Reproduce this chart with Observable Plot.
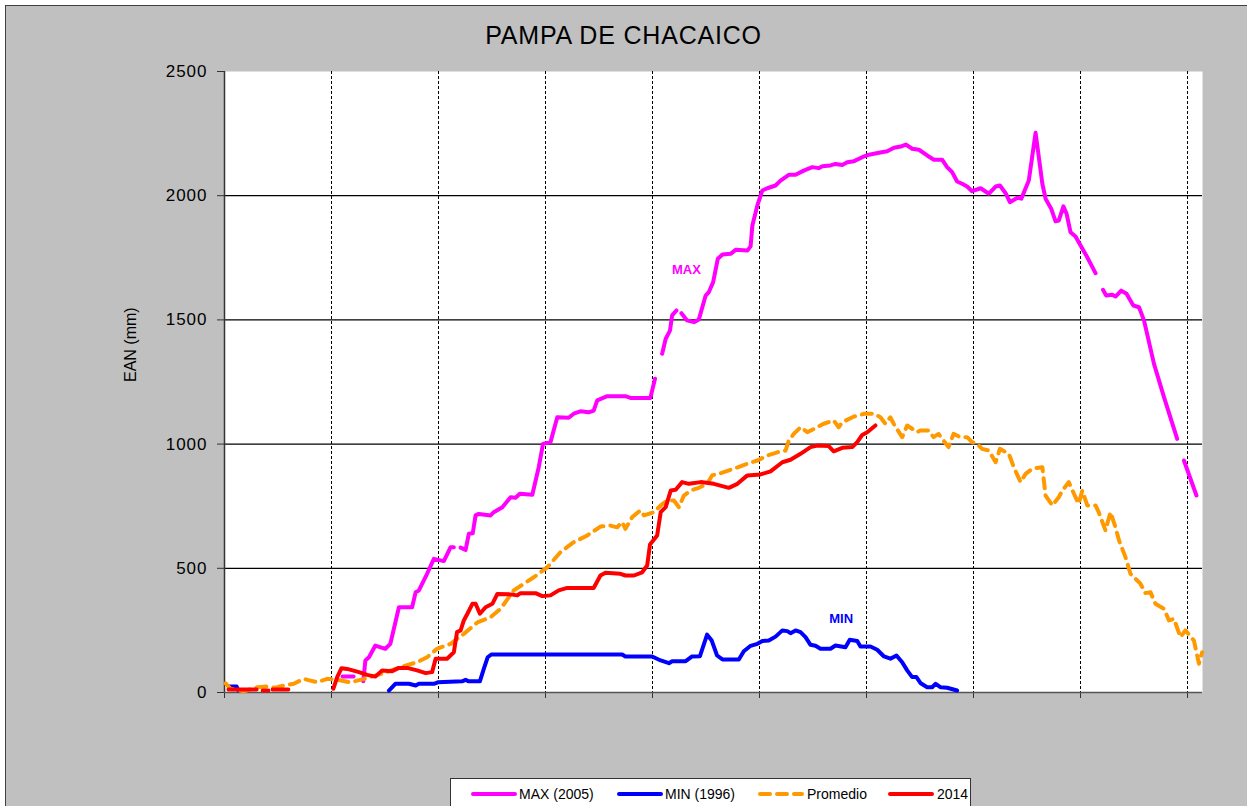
<!DOCTYPE html>
<html>
<head>
<meta charset="utf-8">
<script src="https://cdn.jsdelivr.net/npm/d3@7"></script>
<script src="https://cdn.jsdelivr.net/npm/@observablehq/plot@0.6"></script>
<style>
  html, body { margin: 0; padding: 0; background: #fff; }
  #page { position: relative; width: 1247px; height: 806px; overflow: hidden; font-family: "Liberation Sans", Arial, sans-serif; }
  #bg { position: absolute; left: 5px; top: 5px; width: 1250px; height: 810px; background: #c0c0c0; border: 1px solid #404040; }
  #chart { position: absolute; left: 0; top: 0; }
  #title { position: absolute; left: 0; width: 1247px; top: 21px; text-align: center; font-size: 25px; color: #000; letter-spacing: 0.8px; }
  #legend { position: absolute; left: 450px; top: 778px; width: 519px; height: 40px; background: #fff; border: 1px solid #333; }
  .lg { position: absolute; top: 7px; font-size: 14px; color: #000; white-space: nowrap; }
  .sw { position: absolute; top: 11px; }
</style>
</head>
<body>
<div id="page">
  <div id="bg"></div>
  <div id="chart"></div>
  <div id="title">PAMPA DE CHACAICO</div>
  <div id="legend"></div>
</div>
<script>
// ---- Data (x = days from season start, gridlines every 30 days; y = EAN in mm; null = gap) ----
const maxDays = [33.1,36.2,null,
  38.9,39.5,40.5,42.3,45.1,46.5,48.9,51.7,52.6,53.6,54.5,56.8,58.7,61.5,63.4,64.3,null,
  66.2,67.6,68.5,69.6,70.4,71.3,74.6,75.5,77.9,80.2,81.6,82.8,86.3,88.1,89.3,91.4,93.3,96.5,98.1,99.8,102.1,103.5,104.5,107.3,112.4,113.8,119.4,120.7,null,
  122.7,123.7,124.9,125.5,126.7,null,
  128.1,129.7,131.6,133.0,134.9,135.8,137.0,138.3,139.6,141.9,143.3,146.6,147.5,148.0,149.4,150.8,152.2,154.5,155.9,158.2,160.1,162.4,164.8,166.6,167.6,169.9,171.3,173.2,174.6,176.5,178.8,180.7,183.5,185.8,187.7,189.6,191.0,192.8,194.7,197.0,198.9,201.2,202.6,204.0,205.4,206.8,208.2,209.6,212.0,214.3,216.2,217.4,219.0,220.2,222.3,223.4,225.5,227.4,229.3,230.2,231.8,233.0,233.9,235.2,236.1,237.2,238.6,241.9,244.2,null,
  246.3,247.2,248.9,249.8,251.4,252.9,254.8,256.4,257.8,260.6,263.4,267.1,null,
  269.0,272.5];
const maxEAN = [64,64,null,
  45,129,142,189,176,196,343,343,343,404,411,478,538,529,585,585,null,
  583,574,639,641,713,719,713,726,746,786,784,800,796,907,1001,1008,1108,1106,1124,1132,1128,1135,1176,1193,1193,1186,1186,1263,null,
  1364,1424,1457,1518,1538,null,
  1527,1498,1491,1502,1598,1612,1652,1746,1763,1766,1782,1779,1796,1880,1961,2021,2030,2041,2061,2084,2084,2101,2115,2111,2119,2122,2128,2124,2135,2139,2155,2165,2173,2179,2193,2198,2206,2189,2185,2162,2145,2145,2115,2095,2057,2048,2037,2018,2030,2008,2037,2041,2010,1974,1992,1988,2061,2253,2048,1988,1947,1897,1900,1957,1927,1853,1836,1752,1688,null,
  1621,1598,1601,1594,1618,1605,1558,1551,1498,1323,1189,1021,null,
  934,793];

const minDays = [1.4,3.4,3.9,null,
  46.1,47.9,51.7,53.6,54.5,58.7,59.8,66.6,67.6,68.5,71.6,72.7,73.8,74.8,111.5,112.4,119.9,122.3,124.6,125.5,129.3,131.1,133.3,135.3,136.6,138.1,139.6,144.2,145.6,147.5,149.4,150.8,152.6,154.5,156.4,157.8,158.7,160.1,161.5,162.9,164.3,165.7,167.1,169.9,171.3,174.1,175.3,177.4,178.3,181.1,183.0,184.9,186.7,188.4,190.0,191.4,192.8,194.0,195.2,197.0,198.4,199.4,200.8,202.6,205.4];
const minEAN = [24,24,8,null,
  8,35,35,28,35,35,41,45,51,45,45,95,142,153,153,145,145,129,118,126,126,145,146,233,209,149,133,133,166,188,196,207,209,225,250,247,239,250,243,223,192,188,176,176,189,182,212,207,185,185,172,145,136,149,122,89,62,62,37,21,21,35,21,19,8];

const avgDays = [0.3,1.7,5.4,9.2,12.0,14.3,16.6,19.4,22.2,24.1,26.0,28.8,31.6,35.3,39.1,44.7,49.3,54.0,56.8,59.6,63.4,67.1,70.9,74.6,77.4,81.1,86.7,90.5,94.2,97.9,101.7,105.4,108.2,110.1,111.5,112.4,114.3,116.6,117.6,120.4,122.3,124.1,126.0,127.4,128.8,130.7,133.0,135.3,136.7,139.1,142.8,146.6,149.4,152.2,155.0,157.3,158.2,159.6,161.5,163.4,166.2,168.0,170.8,172.2,173.2,176.5,179.3,182.1,183.9,185.3,186.7,187.6,190.0,191.4,194.2,195.1,197.4,198.8,200.2,201.6,203.0,204.4,206.3,208.2,209.6,211.0,212.4,214.3,216.2,217.4,219.9,221.3,223.2,224.6,226.5,229.3,230.2,232.1,233.9,234.9,236.7,238.6,239.5,240.5,241.9,244.2,245.1,247.0,247.5,248.4,249.8,250.8,252.6,254.0,256.8,258.2,259.6,261.0,263.4,264.8,266.2,268.0,269.4,271.8,273.2,274.1];
const avgEAN = [37,15,5,21,24,19,28,35,55,48,41,55,51,41,55,78,102,122,142,176,196,236,282,303,337,411,464,504,565,605,632,668,672,665,686,659,706,733,713,726,753,773,773,746,793,813,824,840,874,883,901,921,934,954,967,974,1014,1041,1068,1048,1068,1082,1095,1068,1088,1111,1122,1122,1108,1082,1108,1082,1028,1075,1048,1055,1055,1028,1041,1014,988,1041,1028,1028,1008,1001,981,974,927,981,961,907,847,880,901,907,793,753,786,813,847,786,760,813,753,753,726,652,679,726,665,612,545,478,438,400,404,357,337,290,297,223,250,209,116,162];

const y2014Days = [1.1,9.0,null,10.7,12.3,null,13.5,17.9,null,
  30.5,31.6,32.8,34.4,37.7,40.0,42.3,44.2,47.0,48.9,51.2,54.0,56.4,58.2,59.2,62.4,64.3,65.2,66.2,67.1,68.1,69.5,70.4,71.6,73.2,75.1,76.5,80.2,82.1,83.0,87.2,89.1,91.4,93.7,96.1,103.5,105.4,106.8,111.0,112.4,114.8,117.1,118.5,119.3,121.3,122.3,123.7,125.1,126.5,128.3,130.2,133.5,137.2,141.4,143.8,146.6,150.3,153.1,156.4,158.7,161.5,164.3,166.2,169.4,170.8,173.2,176.0,177.4,178.8,180.2,182.5];
const y2014EAN = [12,12,null,8,8,null,12,12,null,
  15,62,98,95,82,71,64,89,86,99,99,89,78,82,136,136,162,243,250,290,317,357,357,317,343,357,397,395,391,400,400,388,391,411,421,421,471,482,478,471,471,484,511,596,632,726,746,813,816,847,840,847,840,824,840,874,878,890,927,937,961,988,994,992,971,985,988,1008,1037,1048,1075];

const yTicks = [0, 500, 1000, 1500, 2000, 2500];
const xGrid = [30, 60, 90, 120, 150, 180, 210, 240, 270];
const xTicks = [0, 30, 60, 90, 120, 150, 180, 210, 240, 270];

const seriesNames = ["MAX (2005)", "MIN (1996)", "Promedio", "2014"];
const seriesColors = ["#ff00ff", "#0000ff", "#ff9900", "#ff0000"];
const labelTexts = ["MAX", "MIN"];
const labelDays = [129.5, 172.9];
const labelEAN = [1703, 298];

// ---- Build tables ----
const toRows = (xs, ys) => xs.map((x, i) => ({x, y: ys[i]}));
const maxRows = toRows(maxDays, maxEAN);
const minRows = toRows(minDays, minEAN);
const avgRows = toRows(avgDays, avgEAN);
const y14Rows = toRows(y2014Days, y2014EAN);
const labelRows = labelTexts.map((t, i) => ({t, x: labelDays[i], y: labelEAN[i], c: seriesColors[i]}));

const lineOpts = (c, extra = {}) => ({x: "x", y: "y", stroke: c, strokeWidth: 4, strokeLinejoin: "round", strokeLinecap: "round", ...extra});

const chart = Plot.plot({
  width: 1247,
  height: 806,
  marginLeft: 224,
  marginRight: 45,
  marginTop: 71,
  marginBottom: 114,
  style: {background: "transparent", fontFamily: "'Liberation Sans', Arial, sans-serif", color: "#000"},
  x: {domain: [0, 274.2], axis: null},
  y: {domain: [0, 2500], axis: null},
  marks: [
    Plot.frame({fill: "#fff", stroke: null}),
    Plot.ruleX(xGrid, {stroke: "#000", strokeWidth: 1, strokeDasharray: "3,2"}),
    Plot.ruleY([500, 1000, 1500, 2000], {stroke: "#000", strokeWidth: 1.2}),
    Plot.axisY({ticks: yTicks, tickFormat: d => String(d), tickSize: 7, tickPadding: 10, fontSize: 17, label: null, stroke: "#333"}),
    Plot.axisX({ticks: xTicks, tickSize: 6, tickFormat: () => "", label: null, stroke: "#333"}),
    Plot.ruleX([0], {stroke: "#333", strokeWidth: 1.5}),
    Plot.ruleY([0], {stroke: "#555", strokeWidth: 1.5}),
    Plot.text(["EAN (mm)"], {frameAnchor: "left", dx: -94, rotate: -90, fontSize: 16, fill: "#000"}),
    Plot.line(maxRows, lineOpts(seriesColors[0])),
    Plot.line(minRows, lineOpts(seriesColors[1])),
    Plot.line(avgRows, lineOpts(seriesColors[2], {strokeDasharray: "10,7"})),
    Plot.line(y14Rows, lineOpts(seriesColors[3])),
    Plot.text(labelRows, {x: "x", y: "y", text: "t", fill: "c", fontSize: 13, fontWeight: "bold"})
  ]
});
chart.querySelectorAll("text").forEach(t => { if (/^\d+$/.test(t.textContent)) t.setAttribute("letter-spacing", "1"); });
document.getElementById("chart").appendChild(chart);

// ---- Legend ----
const legend = document.getElementById("legend");
const swX = [20, 166, 307, 437];
const lbX = [68, 214, 356, 486];
seriesNames.forEach((name, i) => {
  const sw = document.createElementNS("http://www.w3.org/2000/svg", "svg");
  sw.setAttribute("width", 46); sw.setAttribute("height", 8);
  sw.setAttribute("class", "sw");
  sw.style.left = swX[i] + "px";
  const ln = document.createElementNS("http://www.w3.org/2000/svg", "line");
  ln.setAttribute("x1", 2); ln.setAttribute("x2", 44); ln.setAttribute("y1", 4); ln.setAttribute("y2", 4);
  ln.setAttribute("stroke", seriesColors[i]); ln.setAttribute("stroke-width", 4);
  ln.setAttribute("stroke-linecap", "round");
  if (name === "Promedio") ln.setAttribute("stroke-dasharray", "10,7");
  sw.appendChild(ln);
  legend.appendChild(sw);
  const s = document.createElement("span");
  s.className = "lg"; s.textContent = name; s.style.left = lbX[i] + "px";
  legend.appendChild(s);
});
</script>
</body>
</html>
